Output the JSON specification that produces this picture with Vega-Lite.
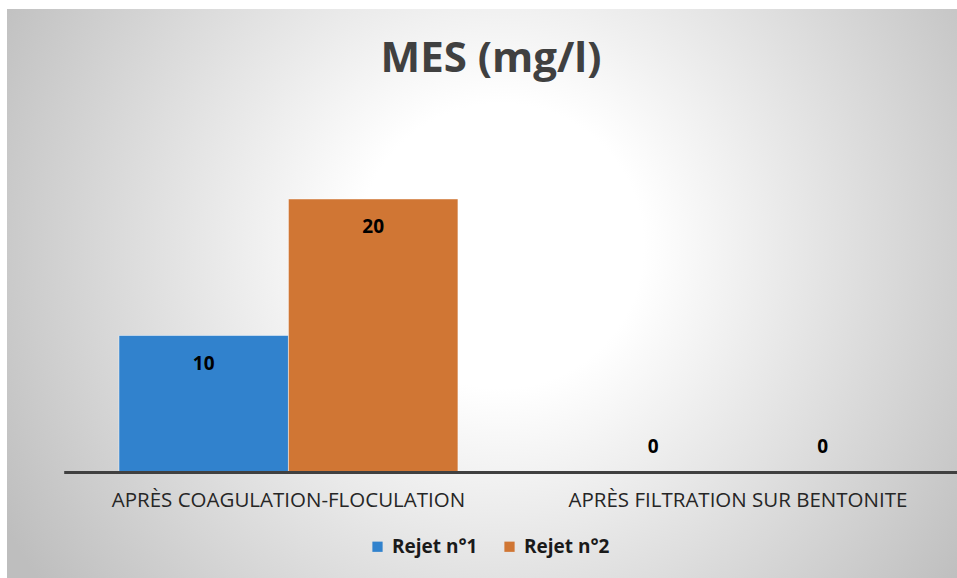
{
  "$schema": "https://vega.github.io/schema/vega-lite/v6.json",
  "width": 950,
  "height": 569,
  "autosize": {"type": "none"},
  "padding": {"left": 7, "top": 9, "right": 0, "bottom": 0},
  "background": "white",
  "config": {"view": {"stroke": null}, "font": "Open Sans"},
  "title": {
    "text": "MES (mg/l)",
    "fontSize": 42,
    "fontWeight": "bold",
    "color": "#404040",
    "font": "Open Sans",
    "anchor": "middle",
    "frame": "group",
    "offset": -66,
    "baseline": "alphabetic",
    "dx": 9,
    "dy": 39
  },
  "data": {
    "values": [
      {"cat": "APRÈS COAGULATION-FLOCULATION", "serie": "Rejet n°1", "value": 10},
      {"cat": "APRÈS COAGULATION-FLOCULATION", "serie": "Rejet n°2", "value": 20},
      {"cat": "APRÈS FILTRATION SUR BENTONITE", "serie": "Rejet n°1", "value": 0},
      {"cat": "APRÈS FILTRATION SUR BENTONITE", "serie": "Rejet n°2", "value": 0}
    ]
  },
  "layer": [
    {
      "data": {"values": [{}]},
      "mark": {
        "type": "rect",
        "fill": {
          "gradient": "radial",
          "x1": 0.52, "y1": 0.45, "r1": 0,
          "x2": 0.52, "y2": 0.45, "r2": 0.6,
          "stops": [
            {"offset": 0, "color": "#ffffff"},
            {"offset": 0.25, "color": "#ffffff"},
            {"offset": 1, "color": "#bebebe"}
          ]
        }
      },
      "encoding": {}
    },
    {
      "mark": {"type": "bar", "stroke": "white", "strokeOpacity": 0.45, "strokeWidth": 1},
      "encoding": {
        "x": {
          "field": "cat", "type": "nominal", "sort": null,
          "scale": {"range": [56.7, 955.7], "paddingInner": 0.246, "paddingOuter": 0.123},
          "axis": {
            "title": null,
            "orient": "bottom",
            "offset": -106,
            "zindex": 1,
            "ticks": false,
            "domainColor": "#404040",
            "domainWidth": 3,
            "labelAngle": 0,
            "labelFont": "Open Sans",
            "labelFontSize": 20.5,
            "labelColor": "#262626",
            "labelPadding": 18,
            "labelLimit": 0
          }
        },
        "xOffset": {"field": "serie", "type": "nominal", "scale": {"paddingInner": 0, "paddingOuter": 0}},
        "y": {
          "field": "value", "type": "quantitative",
          "scale": {"domain": [0, 20], "range": [463, 190]},
          "axis": null
        },
        "color": {
          "field": "serie", "type": "nominal",
          "scale": {"domain": ["Rejet n°1", "Rejet n°2"], "range": ["#3182CD", "#D07634"]},
          "legend": {
            "orient": "none",
            "legendX": 361,
            "legendY": 528,
            "direction": "horizontal",
            "title": null,
            "symbolType": "square",
            "symbolSize": 105,
            "symbolStrokeWidth": 0,
            "labelFont": "Open Sans",
            "labelFontSize": 19,
            "labelFontWeight": "bold",
            "labelColor": "#1a1a1a",
            "labelOffset": 5,
            "columnPadding": 22
          }
        }
      }
    },
    {
      "transform": [{"filter": "datum.value > 0"}],
      "mark": {"type": "text", "dy": 28, "fontSize": 19, "fontWeight": "bold", "color": "#000000", "baseline": "middle", "font": "Open Sans"},
      "encoding": {
        "x": {"field": "cat", "type": "nominal", "sort": null},
        "xOffset": {"field": "serie", "type": "nominal"},
        "y": {"field": "value", "type": "quantitative"},
        "text": {"field": "value", "type": "quantitative"}
      }
    },
    {
      "transform": [{"filter": "datum.value == 0"}],
      "mark": {"type": "text", "dy": -25, "fontSize": 19, "fontWeight": "bold", "color": "#000000", "baseline": "middle", "font": "Open Sans"},
      "encoding": {
        "x": {"field": "cat", "type": "nominal", "sort": null},
        "xOffset": {"field": "serie", "type": "nominal"},
        "y": {"field": "value", "type": "quantitative"},
        "text": {"field": "value", "type": "quantitative"}
      }
    }
  ]
}
